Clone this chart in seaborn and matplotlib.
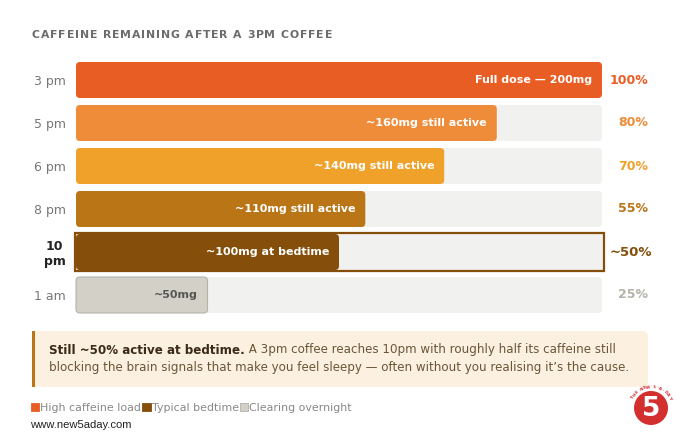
import numpy as np
import pandas as pd
import matplotlib
matplotlib.use("Agg")
import matplotlib.pyplot as plt
import seaborn as sns
from matplotlib.patches import FancyBboxPatch, Rectangle, Circle, Patch
from matplotlib.font_manager import FontProperties, findfont, get_font

# ---------------- data ----------------
times = ["3 pm", "5 pm", "6 pm", "8 pm", "10\npm", "1 am"]
remaining = [100, 80, 70, 55, 50, 25]
bar_labels = ["Full dose — 200mg", "~160mg still active", "~140mg still active",
              "~110mg still active", "~100mg at bedtime", "~50mg"]
pct_labels = ["100%", "80%", "70%", "55%", "~50%", "25%"]
title = "CAFFEINE REMAINING AFTER A 3PM COFFEE"
legend_labels = ["High caffeine load", "Typical bedtime", "Clearing overnight"]
callout_bold = "Still ~50% active at bedtime."
callout_line1 = "A 3pm coffee reaches 10pm with roughly half its caffeine still"
callout_line2 = "blocking the brain signals that make you feel sleepy — often without you realising it’s the cause."
source = "www.new5aday.com"

bar_colors = ["#E85D24", "#EF8C3A", "#F0A12A", "#BA7517", "#854F0B", "#D3D1C7"]
pct_colors = ["#E85D24", "#EF8C3A", "#F0A12A", "#BA7517", "#854F0B", "#B4B2A9"]
label_colors = ["white"] * 5 + ["#555555"]
legend_colors = ["#E85D24", "#854F0B", "#D3D1C7"]
track_color = "#F1F1EF"

sns.set_theme(style="white")
plt.rcParams["font.family"] = ["DejaVu Sans"]

W, H = 680, 443
DPI = 100
fig = plt.figure(figsize=(W / DPI, H / DPI), dpi=DPI)
fig.patch.set_facecolor("white")

# overlay axes in pixel coordinates
ax_o = fig.add_axes([0, 0, 1, 1], zorder=0)
ax_o.set_xlim(0, W)
ax_o.set_ylim(H, 0)
ax_o.axis("off")

# main axes
x0, x1 = 76, 602
y_top, y_bot = 58.5, 316.5
ax = fig.add_axes([x0 / W, 1 - y_bot / H, (x1 - x0) / W, (y_bot - y_top) / H], zorder=2)
ax.patch.set_alpha(0)

df = pd.DataFrame({"time": times, "remaining": remaining, "track": [100] * len(times)})

bar_h = 36 / 43
sns.barplot(data=df, x="track", y="time", color=track_color, orient="h",
            width=bar_h, ax=ax, saturation=1)
n_track = len(ax.patches)
sns.barplot(data=df, x="remaining", y="time", hue="time", palette=bar_colors,
            orient="h", width=bar_h, ax=ax, saturation=1, legend=False)

ax.set_xlim(0, 100)
ax.set_ylim(5.5, -0.5)

px_x = (x1 - x0) / 100.0
px_y = (y_bot - y_top) / 6.0
r_px = 4.0
rs = r_px / px_x
aspect = (r_px / px_y) / rs

patches = list(ax.patches)
for k, p in enumerate(patches):
    bx, by, bw, bh = p.get_x(), p.get_y(), p.get_width(), p.get_height()
    fc = p.get_facecolor()
    p.remove()
    is_track = k < n_track
    row = int(round(by + bh / 2))
    ec = "none"
    lw = 0
    if not is_track and row == 5:
        ec = "#B4B2A9"
        lw = 0.8
    if is_track and row == 4:
        rect = Rectangle((-1.5 / px_x, row - 19 / px_y), 100 + 3 / px_x, 38 / px_y,
                         facecolor=fc, edgecolor="#854F0B", linewidth=1.6,
                         zorder=1, clip_on=False)
        ax.add_patch(rect)
        continue
    fb = FancyBboxPatch((bx, by), bw, bh,
                        boxstyle=f"round,pad=0,rounding_size={rs}",
                        mutation_aspect=aspect, facecolor=fc, edgecolor=ec,
                        linewidth=lw, zorder=1 if is_track else 2, clip_on=False)
    ax.add_patch(fb)

for i, (v, lab) in enumerate(zip(remaining, bar_labels)):
    ax.text(v - 10 / px_x, i, lab, ha="right", va="center", color=label_colors[i],
            fontsize=8, fontweight="bold", zorder=3)
    ax.text(100 + 46 / px_x + (4 / px_x if i == 4 else 0), i, pct_labels[i],
            ha="right", va="center", color=pct_colors[i],
            fontsize=9.5 if i == 4 else 9, fontweight="bold", zorder=3, clip_on=False)

ax.set_xlabel("")
ax.set_ylabel("")
ax.set_xticks([])
ax.tick_params(axis="y", length=0, pad=7.5)
ax.set_yticks(range(len(times)))
ax.set_yticklabels(times)
for i, t in enumerate(ax.get_yticklabels()):
    t.set_fontsize(9)
    if i == 4:
        t.set_color("#222222")
        t.set_fontweight("bold")
        t.set_linespacing(1.1)
        t.set_horizontalalignment("right")
        t.set_multialignment("center")
    else:
        t.set_color("#777777")
for s in ax.spines.values():
    s.set_visible(False)

# ---------------- title with letter spacing (advance-based) ----------------
tfs = 7.8
tprop = FontProperties(family="DejaVu Sans", weight="bold", size=tfs)
ft = get_font(findfont(tprop))
ft.set_size(tfs, DPI)
advs = []
for ch in title:
    g = ft.load_char(ord(ch))
    advs.append(g.linearHoriAdvance / 65536.0)
t_x0, t_x1 = 32, 332
spacing = (t_x1 - t_x0 - sum(advs)) / (len(title) - 1)
xpos = t_x0
for ch, a in zip(title, advs):
    if ch != " ":
        ax_o.text(xpos, 35, ch, ha="left", va="center", fontproperties=tprop,
                  color="#6B6B6B")
    xpos += a + spacing

# ---------------- callout ----------------
cb_x0, cb_x1, cb_y0, cb_y1 = 32, 648, 331, 387
ax_o.add_patch(FancyBboxPatch((cb_x0, cb_y0), cb_x1 - cb_x0, cb_y1 - cb_y0,
                              boxstyle="round,pad=0,rounding_size=6",
                              facecolor="#FCF0E1", edgecolor="none", zorder=1))
ax_o.add_patch(Rectangle((cb_x0, cb_y0), 14, cb_y1 - cb_y0, facecolor="#FCF0E1",
                         edgecolor="none", zorder=1))
ax_o.add_patch(Rectangle((cb_x0, cb_y0), 3, cb_y1 - cb_y0, facecolor="#BA7517",
                         edgecolor="none", zorder=2))
cfs = 8.6
tb = ax_o.text(49, 350, callout_bold, ha="left", va="center", fontsize=cfs,
               fontweight="bold", color="#3B2A16", zorder=3)
ax_o.annotate(" " + callout_line1, xy=(1, 0.5), xycoords=tb, ha="left", va="center",
              fontsize=cfs, color="#6A5637", zorder=3)
ax_o.text(49, 368, callout_line2, ha="left", va="center", fontsize=cfs,
          color="#6A5637", zorder=3)

# ---------------- legend ----------------
handles = [Patch(facecolor=c, edgecolor="#B4B2A9" if k == 2 else c, linewidth=0.6)
           for k, c in enumerate(legend_colors)]
leg = ax_o.legend(handles, legend_labels, loc="center left",
                  bbox_to_anchor=(31, 408), bbox_transform=ax_o.transData,
                  ncol=3, frameon=False, handlelength=0.75, handleheight=0.75,
                  handletextpad=0.1, columnspacing=0.1, borderpad=0,
                  borderaxespad=0, fontsize=7.9)
for t in leg.get_texts():
    t.set_color("#888888")

ax_o.text(30, 425, source, ha="left", va="center", fontsize=8.1,
          color="#222222", family="Liberation Sans")

# ---------------- logo ----------------
cx, cy, r = 651, 408, 17
ax_o.add_patch(Circle((cx, cy), r + 3, facecolor="white", edgecolor="none", zorder=2))
ax_o.add_patch(Circle((cx, cy), r, facecolor="#D32F2F", edgecolor="none", zorder=3))
ax_o.text(cx, cy + 1, "5", ha="center", va="center", fontsize=19, fontweight="bold",
          color="white", zorder=4)
arc = "THE NEW 5-A-DAY"
angs = np.linspace(150, 30, len(arc))
for ch, a in zip(arc, angs):
    rr = r + 4
    ax_o.text(cx + rr * np.cos(np.radians(a)), cy - rr * np.sin(np.radians(a)), ch,
              ha="center", va="center", fontsize=3, fontweight="bold",
              color="#D32F2F", rotation=a - 90, zorder=4)

fig.savefig("out.png", dpi=DPI, facecolor="white")
